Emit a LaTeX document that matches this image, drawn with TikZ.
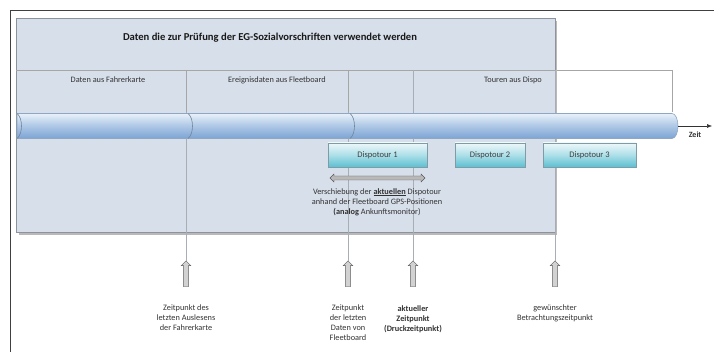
\documentclass[tikz,border=0pt]{standalone}
\usepackage{fontspec}
\setmainfont{Carlito}
\usetikzlibrary{shapes.arrows,arrows.meta}
\definecolor{boxfill}{HTML}{D7DFEA}
\definecolor{boxline}{HTML}{8C939C}
\definecolor{barline}{HTML}{8FA7C4}
\definecolor{bartop}{HTML}{E8F1FA}
\definecolor{barbot}{HTML}{7CA4D4}
\definecolor{dtop}{HTML}{EEF8FA}
\definecolor{dbot}{HTML}{5CC0D1}
\definecolor{dline}{HTML}{7F9BA6}
\definecolor{mark}{HTML}{A8AEB5}
\tikzset{
  lbl/.style={font=\fontsize{8.3}{10}\selectfont, align=center, text=black!80, inner sep=0pt},
  tourbox/.style={draw=dline, top color=dtop, bottom color=dbot, middle color=dtop!55!dbot, minimum height=24pt, inner sep=0pt, font=\fontsize{8.5}{10}\selectfont, text=black!75},
  uparrow/.style={single arrow, draw=gray!70!black, fill=gray!35, minimum height=26pt, inner xsep=0pt, inner ysep=2.2pt, single arrow head extend=2.5pt, rotate=90},
  markline/.style={draw=mark, line width=0.5pt},
}
\begin{document}
\begin{tikzpicture}[x=1pt,y=1pt]
\useasboundingbox (0,-352) rectangle (714,0);
\fill[white] (0,-352) rectangle (714,0);
% outer frame
\draw[black!75, line width=1pt] (10,-352) -- (10,-11) -- (714,-11);
% Touren box (outside part)
\draw[gray!70, line width=0.7pt] (555,-70) -- (672,-70) -- (672,-112);
% big box shadow and box
\fill[gray!55] (19,-21) rectangle (557,-235);
\draw[boxline, fill=boxfill, line width=0.5pt] (16,-18) rectangle (555,-232);
\node[font=\fontsize{10.6}{12}\selectfont\bfseries, inner sep=0pt, text=black!90] (title) at (270,-38) {Daten die zur Prüfung der EG-Sozialvorschriften verwendet werden};
\draw[gray!70, line width=0.7pt] (16,-70) -- (555,-70);
% marker coordinates
\coordinate (m1) at (186,-70);
\coordinate (m2) at (348,-70);
\coordinate (m3) at (413,-70);
\coordinate (m4) at (555,-70);
% column labels
\node[lbl] (c1) at (108,-80) {Daten aus Fahrerkarte};
\node[lbl] (c2) at (277,-80) {Ereignisdaten aus Fleetboard};
\node[lbl] (c3) at (513,-80) {Touren aus Dispo};
% up arrows
\node[uparrow] (a1) at (186,-275) {};
\node[uparrow] (a2) at (348,-275) {};
\node[uparrow] (a3) at (413,-275) {};
\node[uparrow] (a4) at (555,-275) {};
% marker lines
\draw[markline] (m1) -- (a1.tip);
\draw[markline] (m2) -- (a2.tip);
\draw[markline] (m3) -- (a3.tip);
\draw[markline] (m4) -- (a4.tip);
\draw[gray!70, line width=0.7pt] (m1) -- (186,-112);
\draw[gray!70, line width=0.7pt] (m2) -- (348,-112);
% time bar
\draw[barline, line width=0.6pt, top color=bartop, bottom color=barbot, middle color=bartop!45!barbot]
  (17,-113.5) -- (672,-113.5) arc[start angle=90, end angle=-90, x radius=6, y radius=12.5] -- (17,-138.5) -- cycle;
\foreach \xx in {19,190,352}
  \draw[barline!80!black, line width=0.6pt] (\xx-2,-113.5) .. controls (\xx+4,-118) and (\xx+4,-134) .. (\xx-2,-138.5);
\coordinate (barend) at (678,-126);
\coordinate (zeitend) at (712,-126);
\draw[black!80, line width=0.5pt, -{Latex[length=5pt,width=4pt]}] (barend) -- (zeitend);
\node[lbl, font=\fontsize{8}{9}\selectfont\bfseries] (zeit) at (695,-135) {Zeit};
% dispotours
\node[tourbox, minimum width=99pt] (d1) at (377.5,-155) {Dispotour 1};
\node[tourbox, minimum width=70pt] (d2) at (490,-155) {Dispotour 2};
\node[tourbox, minimum width=93pt] (d3) at (589.5,-155) {Dispotour 3};
\node[double arrow, draw=gray!70!black, fill=gray!55, minimum height=95pt, inner xsep=0pt, inner ysep=1.8pt, double arrow head extend=2pt] (shift) at (377.5,-178) {};
\node[lbl, font=\fontsize{8.3}{10}\selectfont, anchor=north] (shifttext) at (377,-188)
  {Verschiebung der \underline{\textbf{aktuellen}} Dispotour\\anhand der Fleetboard GPS-Positionen\\\textbf{(analog} Ankunftsmonitor)};
% bottom labels
\node[lbl, anchor=north] (l1) at (186,-305) {Zeitpunkt des\\letzten Auslesens\\der Fahrerkarte};
\node[lbl, anchor=north] (l2) at (348,-305) {Zeitpunkt\\der letzten\\Daten von\\Fleetboard};
\node[lbl, anchor=north, font=\fontsize{8.3}{10}\selectfont\bfseries] (l3) at (413,-305) {aktueller\\Zeitpunkt\\(Druckzeitpunkt)};
\node[lbl, anchor=north] (l4) at (555,-305) {gewünschter\\Betrachtungszeitpunkt};
\end{tikzpicture}
\end{document}
